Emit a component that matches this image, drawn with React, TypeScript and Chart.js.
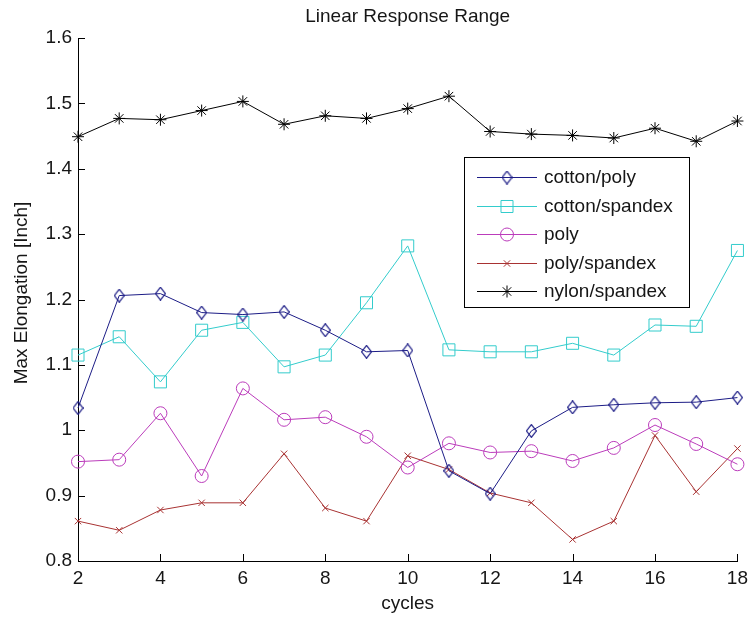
import React, { useEffect, useRef } from 'react';
import { Chart, registerables } from 'chart.js';
import { drawPoint } from 'chart.js/helpers';

Chart.register(...registerables);

const cycles = [2, 3, 4, 5, 6, 7, 8, 9, 10, 11, 12, 13, 14, 15, 16, 17, 18];
const cottonPoly = [1.034, 1.206, 1.209, 1.180, 1.177, 1.181, 1.153, 1.120, 1.122, 0.938, 0.903, 0.999, 1.035, 1.039, 1.042, 1.043, 1.050];
const cottonSpandex = [1.115, 1.143, 1.074, 1.153, 1.165, 1.097, 1.115, 1.195, 1.282, 1.123, 1.120, 1.120, 1.133, 1.115, 1.161, 1.159, 1.275];
const poly = [0.952, 0.955, 1.026, 0.930, 1.064, 1.016, 1.020, 0.990, 0.943, 0.980, 0.966, 0.968, 0.953, 0.973, 1.008, 0.979, 0.948];
const polySpandex = [0.861, 0.847, 0.878, 0.889, 0.889, 0.964, 0.881, 0.861, 0.961, 0.940, 0.904, 0.889, 0.833, 0.861, 0.992, 0.906, 0.972];
const nylonSpandex = [1.449, 1.477, 1.475, 1.489, 1.503, 1.468, 1.481, 1.477, 1.492, 1.511, 1.457, 1.453, 1.451, 1.447, 1.462, 1.442, 1.473];

const seriesNames = ['cotton/poly', 'cotton/spandex', 'poly', 'poly/spandex', 'nylon/spandex'];
const seriesValues = [cottonPoly, cottonSpandex, poly, polySpandex, nylonSpandex];

const titleText = 'Linear Response Range';
const xTitleText = 'cycles';
const yTitleText = 'Max Elongation [Inch]';
const yMin = 0.8;
const yMax = 1.6;
const xMin = 2;
const xMax = 18;

const FONT = '"Liberation Sans", Arial, Helvetica, sans-serif';
const TEXT_COLOR = '#161616';

function makeDiamond(color: string) {
  const w = 11, h = 14;
  const c = document.createElement('canvas');
  c.width = w;
  c.height = h;
  const g = c.getContext('2d')!;
  g.strokeStyle = color;
  g.lineWidth = 1.2;
  g.beginPath();
  g.moveTo(w / 2, 0.6);
  g.lineTo(w - 0.6, h / 2);
  g.lineTo(w / 2, h - 0.6);
  g.lineTo(0.6, h / 2);
  g.closePath();
  g.stroke();
  return c;
}

const seriesStyles = [
  { color: '#1c1c86', style: 'diamond', radius: 6 },
  { color: '#33cccc', style: 'rect', radius: 8.5 },
  { color: '#bb3cbb', style: 'circle', radius: 6.5 },
  { color: '#a83232', style: 'crossRot', radius: 4.5 },
  { color: '#000000', style: 'star', radius: 6 },
];

const decor = {
  id: 'decor',
  afterDraw(chart: any) {
    const ctx = chart.ctx as CanvasRenderingContext2D;
    const { left, right, top, bottom } = chart.chartArea;
    const xs = chart.scales.x;
    const ys = chart.scales.y;
    ctx.save();
    // inward ticks
    ctx.strokeStyle = '#000';
    ctx.lineWidth = 1;
    ctx.beginPath();
    ys.ticks.forEach((t: any) => {
      const py = Math.round(ys.getPixelForValue(t.value)) + 0.5;
      ctx.moveTo(left, py);
      ctx.lineTo(left + 7, py);
    });
    xs.ticks.forEach((t: any) => {
      const px = Math.round(xs.getPixelForValue(t.value)) + 0.5;
      ctx.moveTo(px, bottom);
      ctx.lineTo(px, bottom - 7);
    });
    ctx.stroke();

    // titles
    ctx.fillStyle = TEXT_COLOR;
    ctx.font = `19px ${FONT}`;
    ctx.textAlign = 'center';
    ctx.textBaseline = 'middle';
    ctx.fillText(titleText, (left + right) / 2, 17);
    ctx.fillText(xTitleText, (left + right) / 2, 604);
    ctx.save();
    ctx.translate(22, 293);
    ctx.rotate(-Math.PI / 2);
    ctx.fillText(yTitleText, 0, 0);
    ctx.restore();

    // legend
    const lx = 464, ly = 157, lw = 225, lh = 150;
    ctx.fillStyle = '#fff';
    ctx.fillRect(lx, ly, lw, lh);
    ctx.strokeStyle = '#000';
    ctx.lineWidth = 1;
    ctx.strokeRect(lx + 0.5, ly + 0.5, lw, lh);
    chart.data.datasets.forEach((ds: any, i: number) => {
      const y = Math.round(ly + 20 + i * 28.5) + 0.5;
      ctx.strokeStyle = ds.borderColor;
      ctx.lineWidth = 1;
      ctx.beginPath();
      ctx.moveTo(477, y);
      ctx.lineTo(537, y);
      ctx.stroke();
      ctx.save();
      ctx.fillStyle = 'rgba(0,0,0,0)';
      ctx.strokeStyle = ds.borderColor;
      ctx.lineWidth = 1;
      drawPoint(ctx, {
        pointStyle: ds.pointStyle,
        radius: ds.pointRadius,
        rotation: 0,
        borderWidth: 1,
      } as any, 507, y);
      ctx.restore();
      ctx.fillStyle = TEXT_COLOR;
      ctx.font = `19px ${FONT}`;
      ctx.textAlign = 'left';
      ctx.textBaseline = 'middle';
      ctx.fillText(ds.label, 544, y + 0.5);
    });
    ctx.restore();
  },
};

export default function App() {
  const ref = useRef<HTMLCanvasElement | null>(null);

  useEffect(() => {
    document.body.style.margin = '0';
    const canvas = ref.current!;
    const datasets = seriesNames.map((name, i) => {
      const st = seriesStyles[i];
      const pointStyle = st.style === 'diamond' ? makeDiamond(st.color) : st.style;
      return {
        label: name,
        data: cycles.map((c, j) => ({ x: c, y: seriesValues[i][j] })),
        borderColor: st.color,
        backgroundColor: 'rgba(0,0,0,0)',
        borderWidth: 1,
        pointStyle,
        pointRadius: st.radius,
        pointBorderColor: st.color,
        pointBackgroundColor: 'rgba(0,0,0,0)',
        pointBorderWidth: 1,
        tension: 0,
        clip: false as any,
      };
    });
    const chart = new Chart(canvas, {
      type: 'line',
      data: { datasets: datasets as any },
      options: {
        responsive: false,
        animation: false,
        events: [],
        layout: { padding: { top: 38, right: 13, left: 0, bottom: 0 } },
        plugins: {
          legend: { display: false },
          title: { display: false },
          tooltip: { enabled: false },
        },
        scales: {
          x: {
            type: 'linear',
            min: xMin,
            max: xMax,
            ticks: {
              stepSize: 2,
              color: TEXT_COLOR,
              font: { family: FONT, size: 19 },
              padding: 6,
              maxRotation: 0,
            },
            grid: { drawOnChartArea: false, drawTicks: false, color: '#000' },
            border: { display: true, color: '#000', width: 1 },
            afterFit: (s: any) => { s.height = 58; },
          },
          y: {
            type: 'linear',
            min: yMin,
            max: yMax,
            ticks: {
              stepSize: 0.1,
              color: TEXT_COLOR,
              font: { family: FONT, size: 19 },
              padding: 6,
              callback: (v: any) => String(Math.round(Number(v) * 10) / 10),
            },
            grid: { drawOnChartArea: false, drawTicks: false, color: '#000' },
            border: { display: true, color: '#000', width: 1 },
            afterFit: (s: any) => { s.width = 78; },
          },
        },
      },
      plugins: [decor],
    });
    return () => chart.destroy();
  }, []);

  return (
    <div style={{ width: 754, height: 619, background: '#fff' }}>
      <canvas ref={ref} width={754} height={619} style={{ display: 'block' }} />
    </div>
  );
}
